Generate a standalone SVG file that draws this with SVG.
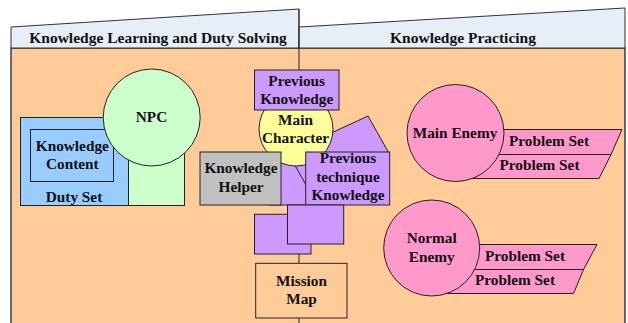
<svg xmlns="http://www.w3.org/2000/svg" width="628" height="323" viewBox="0 0 628 323">
<style>
text{font-family:"Liberation Serif","Times New Roman",serif;font-weight:bold;font-size:15.3px;fill:#111;text-anchor:middle}
.hd{font-size:15.5px}
.s{stroke:#222;stroke-width:1}
.pur{fill:#CC99FF;stroke:#222;stroke-width:1}
.pink{fill:#FF99CC;stroke:#222;stroke-width:1}
.hdr{fill:#E6EEF8;stroke:#333;stroke-width:1}
</style>
<rect width="628" height="323" fill="#ffffff"/>
<g id="lanes">
  <rect x="11" y="48" width="614" height="290" fill="#FFCC99" stroke="#222" stroke-width="1.3"/>
  <polygon class="hdr" points="11,27 299,9 299,48 11,48"/>
  <polygon class="hdr" points="299,27 625,8 625,48 299,48"/>
  <line class="s" x1="299" y1="9" x2="299" y2="330"/>
  <text class="hd" x="158" y="42.5">Knowledge Learning and Duty Solving</text>
  <text class="hd" x="463" y="42.5">Knowledge Practicing</text>
</g>
<g id="duty-set">
  <rect x="20.5" y="117.5" width="108" height="88" fill="#99CCFF" class="s"/>
  <text x="74" y="201.5">Duty Set</text>
</g>
<g id="knowledge-content">
  <rect x="30.5" y="129.5" width="83" height="52" fill="#99CCFF" class="s"/>
  <text x="72.3" y="150.7">Knowledge</text>
  <text x="72.3" y="169">Content</text>
</g>
<g id="npc">
  <rect x="128.5" y="140" width="56" height="65.5" fill="#CCFFCC" class="s"/>
  <circle cx="151.7" cy="117.5" r="48.5" fill="#CCFFCC" class="s"/>
  <text x="151.5" y="121.7">NPC</text>
</g>
<g id="knowledge-stack">
  <rect class="pur" x="270" y="150" width="40" height="55"/>
  <polygon class="pur" points="288,153 368,116 388.6,152.5 308.6,189.5"/>
</g>
<g id="main-character">
  <circle cx="296" cy="129" r="37" fill="#FFFF99" class="s"/>
  <text x="295.5" y="124.5">Main</text>
  <text x="295.5" y="142.5">Character</text>
</g>
<g id="knowledge-helper">
  <rect x="200" y="152" width="81" height="53" fill="#C0C0C0" class="s"/>
  <text x="241" y="173.3">Knowledge</text>
  <text x="241" y="191.7">Helper</text>
</g>
<g id="previous-technique-knowledge">
  <rect class="pur" x="305.7" y="152" width="84" height="53"/>
  <text x="348" y="163.3">Previous</text>
  <text x="348" y="181.7">technique</text>
  <text x="348" y="200">Knowledge</text>
</g>
<g id="previous-knowledge">
  <rect class="pur" x="254.5" y="70" width="84.5" height="40"/>
  <text x="296.7" y="85.7">Previous</text>
  <text x="296.7" y="103.5">Knowledge</text>
</g>
<g id="knowledge-block-a">
  <rect class="pur" x="254.5" y="214.3" width="56.5" height="39.7"/>
</g>
<g id="knowledge-block-b">
  <rect class="pur" x="287.5" y="205" width="56.2" height="39"/>
</g>
<g id="mission-map">
  <rect x="255.7" y="263.3" width="91.3" height="54.7" fill="#FFCC99" class="s"/>
  <text x="301.5" y="286">Mission</text>
  <text x="301.5" y="304">Map</text>
</g>
<g id="main-enemy">
  <polygon class="pink" points="470,129.5 622,129.5 611,154.5 460,154.5"/>
  <polygon class="pink" points="460,154.5 611,154.5 599,178.5 450,178.5"/>
  <circle cx="455.5" cy="133" r="48.5" class="pink"/>
  <text x="455" y="137.5">Main Enemy</text>
  <text x="549" y="145.7">Problem Set</text>
  <text x="539.5" y="170">Problem Set</text>
</g>
<g id="normal-enemy">
  <polygon class="pink" points="450,244.5 597,244.5 583.5,269.5 440,269.5"/>
  <polygon class="pink" points="440,269.5 583.5,269.5 573.5,293.5 430,293.5"/>
  <circle cx="431.7" cy="248" r="48" class="pink"/>
  <text x="431.7" y="243.3">Normal</text>
  <text x="431.7" y="261.7">Enemy</text>
  <text x="525" y="260.7">Problem Set</text>
  <text x="515" y="285">Problem Set</text>
</g>
<g id="connectors"></g>
</svg>
